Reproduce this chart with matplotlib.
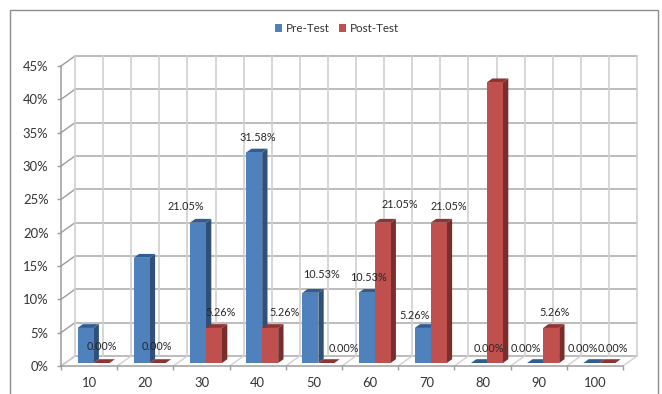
import matplotlib
matplotlib.use("Agg")
import matplotlib.pyplot as plt
from matplotlib.patches import Patch, Polygon, Rectangle

plt.rcParams['font.family'] = ['Lato', 'DejaVu Sans']

categories = ['10', '20', '30', '40', '50', '60', '70', '80', '90', '100']
pre_test = [5.26, 15.79, 21.05, 31.58, 10.53, 10.53, 5.26, 0.00, 0.00, 0.00]
post_test = [0.00, 0.00, 5.26, 5.26, 0.00, 21.05, 21.05, 42.11, 5.26, 0.00]
y_ticks = [0, 5, 10, 15, 20, 25, 30, 35, 40, 45]

# label offsets from the top of each bar, in pixels; missing bars get no label
pre_offsets = {2: (-12, 16), 3: (4, 15), 4: (11, 18), 5: (2, 15), 6: (-8, 12),
               7: (10, 15), 8: (-9, 15), 9: (-8, 15)}
post_offsets = {0: (0, 17), 1: (-1, 17), 2: (7, 15), 3: (14, 15), 4: (17, 15),
                5: (17, 18), 6: (10, 16), 8: (3, 15), 9: (5, 15)}

W, H = 662, 394
TEXT = '#333333'
GRID_H = '#b0b0b0'
GRID_V = '#d0d0d0'
AXIS = '#9c9c9c'

# depth of the back wall in data units
DX = 14 / 56.2
DY = 1.5
BAR_W = 0.285
BAR_X = 0.22
DEPTH_FRONT = 0.3
DEPTH_BACK = 0.68


def project(x, y, depth):
    return x + depth * DX, y + depth * DY


def draw_bar(ax, left, value, front, side, top):
    x0, y0 = project(left, 0, DEPTH_FRONT)
    x1, y1 = project(left + BAR_W, value, DEPTH_FRONT)
    bx0, by1 = project(left, value, DEPTH_BACK)
    bx1, by0 = project(left + BAR_W, 0, DEPTH_BACK)
    ax.add_patch(Polygon([(x1, y0), (bx1, by0), (bx1, by1), (x1, y1)], fc=side, ec='none', zorder=3))
    ax.add_patch(Polygon([(x0, y1), (x1, y1), (bx1, by1), (bx0, by1)], fc=top, ec='none', zorder=3))
    if value > 0:
        ax.add_patch(Rectangle((x0, y0), x1 - x0, y1 - y0, fc=front, ec='none', zorder=3))
    return (x0 + x1) / 2, y1


def draw_label(ax, pos, value, offset):
    ax.annotate(f'{value:.2f}%', xy=pos, xytext=(offset[0] * 0.72, offset[1] * 0.72),
                textcoords='offset points', ha='center', va='center',
                fontsize=7.8, color='#262626', zorder=5, annotation_clip=False)


fig = plt.figure(figsize=(W / 100, H / 100), dpi=100)
ax = fig.add_axes([61 / W, (H - 366) / H, 562 / W, 300 / H])
ax.set_xlim(0, 10)
ax.set_ylim(0, 45)
ax.patch.set_visible(False)

# outer frame of the chart area
fig.add_artist(Rectangle((9.5 / W, -5 / H), 648.5 / W, (H - 9.5 + 5) / H, transform=fig.transFigure,
                         fc='white', ec='#8c8c8c', lw=1.0, zorder=-1))

# back wall and side wall
for v in y_ticks:
    bx, by = project(0, v, 1)
    ax.plot([bx, 10 + DX], [by, by], color=GRID_H, lw=1.2, clip_on=False, zorder=1)
    ax.plot([0, bx], [v, by], color=AXIS, lw=1.0, clip_on=False, zorder=1)
for k in range(21):
    bx = k / 2 + DX
    ax.plot([bx, bx], [DY, 45 + DY], color=GRID_V, lw=1.2, clip_on=False, zorder=1)

# floor
for k in range(11):
    ax.plot([k, k + DX], [0, DY], color=GRID_V, lw=1.0, clip_on=False, zorder=1)

for i in range(len(categories)):
    pos = draw_bar(ax, i + BAR_X, pre_test[i], '#4f81bd', '#2f5079', '#2f5d94')
    if i in pre_offsets:
        draw_label(ax, pos, pre_test[i], pre_offsets[i])
    pos = draw_bar(ax, i + BAR_X + BAR_W, post_test[i], '#c0504d', '#7a2e2c', '#8f3432')
    if i in post_offsets:
        draw_label(ax, pos, post_test[i], post_offsets[i])

for name in ['top', 'right']:
    ax.spines[name].set_visible(False)
for name in ['left', 'bottom']:
    ax.spines[name].set_color(AXIS)
    ax.spines[name].set_linewidth(1.1)

ax.set_yticks(y_ticks)
ax.set_yticklabels([f'{v}%' for v in y_ticks])
ax.set_xticks(range(11))
ax.set_xticklabels([])
ax.set_xticks([i + 0.5 for i in range(10)], labels=categories, minor=True)
ax.tick_params(axis='both', which='major', length=3, width=1.0, color=AXIS, labelsize=9.4, labelcolor=TEXT, pad=6)
ax.tick_params(axis='x', which='minor', length=0, labelsize=9.4, labelcolor=TEXT, pad=8)

handles = [Patch(fc='#4f81bd', label='Pre-Test'), Patch(fc='#c0504d', label='Post-Test')]
fig.legend(handles=handles, loc='center', bbox_to_anchor=(337 / W, (H - 28.5) / H), ncol=2, frameon=False,
           fontsize=8.4, labelcolor=TEXT, handlelength=0.62, handleheight=0.75, handletextpad=0.3,
           columnspacing=0.8, borderpad=0)

fig.savefig('out.png', dpi=100, facecolor='white')
